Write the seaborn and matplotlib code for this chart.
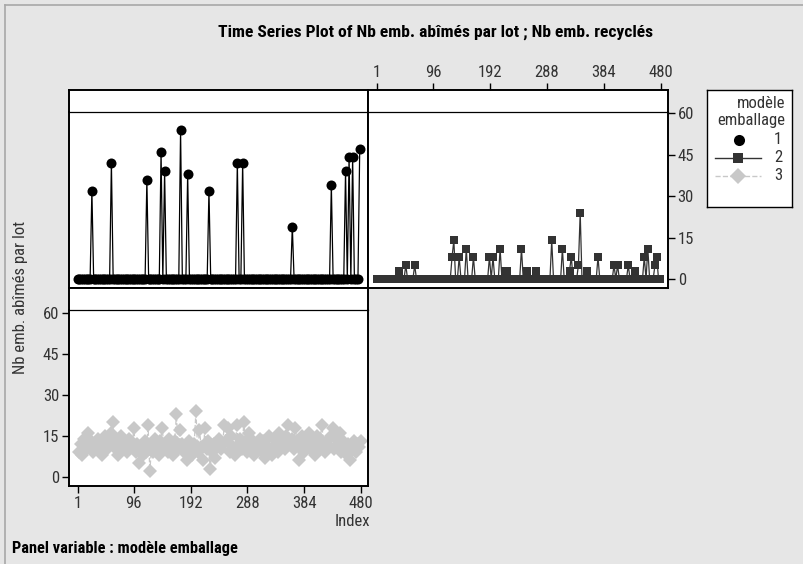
import numpy as np
import pandas as pd
import matplotlib
matplotlib.use("Agg")
import matplotlib.pyplot as plt
from matplotlib import font_manager as fm
from matplotlib.lines import Line2D
import seaborn as sns

# ---------------- data ----------------
models = [1, 2, 3]
n_lots = 480
tick_labels = [1, 96, 192, 288, 384, 480]
y_ticks = [0, 15, 30, 45, 60]

model1_values = [
    0, 0, 0, 0, 0, 0, 0, 0, 32, 0, 0, 0, 0, 0, 0, 0, 0, 0, 0, 42,
    0, 0, 0, 0, 0, 0, 0, 0, 0, 0, 0, 0, 0, 0, 0, 0, 0, 0, 0, 36,
    0, 0, 0, 0, 0, 0, 0, 46, 0, 39, 0, 0, 0, 0, 0, 0, 0, 0, 54, 0,
    0, 0, 38, 0, 0, 0, 0, 0, 0, 0, 0, 0, 0, 0, 32, 0, 0, 0, 0, 0,
    0, 0, 0, 0, 0, 0, 0, 0, 0, 0, 42, 0, 0, 42, 0, 0, 0, 0, 0, 0,
    0, 0, 0, 0, 0, 0, 0, 0, 0, 0, 0, 0, 0, 0, 0, 0, 0, 0, 0, 0,
    0, 19, 0, 0, 0, 0, 0, 0, 0, 0, 0, 0, 0, 0, 0, 0, 0, 0, 0, 0,
    0, 0, 0, 34, 0, 0, 0, 0, 0, 0, 0, 39, 0, 44, 0, 44, 0, 0, 0, 47,
]

model2_values = [
    0, 0, 0, 0, 0, 0, 0, 0, 0, 0, 0, 0, 3, 0, 0, 0, 5, 0, 0, 0,
    0, 5, 0, 0, 0, 0, 0, 0, 0, 0, 0, 0, 0, 0, 0, 0, 0, 0, 0, 0,
    0, 0, 8, 14, 0, 0, 8, 0, 0, 0, 11, 0, 0, 0, 8, 0, 0, 0, 0, 0,
    0, 0, 0, 8, 0, 8, 0, 0, 0, 11, 0, 0, 3, 3, 0, 0, 0, 0, 0, 0,
    0, 11, 0, 0, 3, 0, 0, 0, 0, 3, 0, 0, 0, 0, 0, 0, 0, 0, 14, 0,
    0, 0, 0, 0, 11, 0, 0, 0, 3, 8, 0, 0, 0, 5, 24, 0, 0, 0, 3, 0,
    0, 0, 0, 0, 8, 0, 0, 0, 0, 0, 0, 0, 0, 5, 0, 5, 0, 0, 0, 0,
    0, 5, 0, 0, 0, 3, 0, 0, 0, 0, 8, 0, 11, 0, 0, 0, 5, 8, 0, 0,
]

model3_values = [
    9, 12, 8, 14, 10, 16, 11, 13, 9, 12, 10, 14, 11, 8, 13, 15, 10, 12, 16, 20,
    11, 14, 8, 12, 15, 10, 13, 9, 14, 12, 11, 18, 9, 12, 5, 10, 8, 13, 9, 19,
    2, 11, 9, 14, 12, 8, 13, 18, 10, 12, 9, 14, 11, 8, 13, 23, 10, 17, 12, 9,
    11, 6, 13, 10, 8, 12, 24, 9, 17, 11, 6, 18, 10, 13, 3, 9, 12, 7, 11, 14,
    10, 12, 19, 13, 18, 9, 15, 11, 8, 19, 12, 14, 10, 20, 13, 9, 16, 11, 13, 8,
    12, 10, 14, 9, 13, 7, 11, 15, 10, 8, 14, 12, 9, 16, 11, 13, 10, 15, 19, 12,
    14, 10, 18, 13, 6, 11, 15, 9, 12, 14, 16, 10, 13, 8, 15, 11, 14, 19, 12, 9,
    13, 11, 15, 18, 10, 14, 12, 16, 9, 13, 11, 8, 12, 6, 10, 13, 9, 12, 11, 13,
]

# lots are interleaved by model: row index of each lot in the worksheet
rows = []
for m, vals in zip(models, [model1_values, model2_values, model3_values]):
    for k, v in enumerate(vals):
        rows.append({"Index": 3 * k + m, "model": m, "value": v})
df = pd.DataFrame(rows)

# ---------------- fonts ----------------
def pick(cands):
    for c in cands:
        try:
            fm.findfont(fm.FontProperties(family=c), fallback_to_default=False)
            return c
        except Exception:
            pass
    return "DejaVu Sans"

NARROW = pick(["Liberation Sans Narrow", "Roboto Condensed", "DejaVu Sans Condensed",
               "Liberation Sans", "DejaVu Sans"])
plt.rcParams["font.family"] = [NARROW, "DejaVu Sans"]

W, H = 804, 564
fig = plt.figure(figsize=(W / 100, H / 100), dpi=100)
BG = "#e6e6e6"
fig.patch.set_facecolor(BG)

def rect(x0, y0, x1, y1):
    return [x0 / W, 1 - y1 / H, (x1 - x0) / W, (y1 - y0) / H]

XLIM = (-13.7, 492)
TICK_COL = "#333333"
OUT_LW = 1.4
STRIP_LW = 0.9

def make_panel(strip_box, data_box, ylim):
    axs = fig.add_axes(rect(*strip_box))
    axd = fig.add_axes(rect(*data_box))
    for a in (axs, axd):
        a.set_facecolor("white")
        a.set_xlim(*XLIM)
        a.tick_params(which="both", length=0, labelleft=False, labelbottom=False)
        a.set_xticks([])
        a.set_yticks([])
        for s in a.spines.values():
            s.set_color("black")
            s.set_linewidth(OUT_LW)
    axs.spines["bottom"].set_visible(False)
    axd.spines["top"].set_linewidth(STRIP_LW)
    axd.set_ylim(*ylim)
    axs.set_ylim(0, 1)
    return axs, axd

top_ylim = (-3.26, 60.47)
bot_ylim = (-3.4, 61.2)
s1, a1 = make_panel((69, 90, 368, 112), (69, 112, 368, 288), top_ylim)
s2, a2 = make_panel((368, 90, 668, 112), (368, 112, 668, 288), top_ylim)
s3, a3 = make_panel((69, 288, 368, 310), (69, 310, 368, 486), bot_ylim)

styles = {
    1: dict(color="black", marker="o", markersize=7.2, linewidth=0.9, linestyle="-"),
    2: dict(color="#333333", marker="s", markersize=5.8, linewidth=0.9, linestyle="-"),
    3: dict(color="#c8c8c8", marker="D", markersize=6.8, linewidth=0.9, linestyle="--"),
}
for m, ax in zip(models, [a1, a2, a3]):
    sub = df[df["model"] == m]
    st = styles[m]
    sns.lineplot(data=sub, x="Index", y="value", ax=ax, estimator=None, sort=True,
                 color=st["color"], marker=st["marker"], markersize=st["markersize"],
                 markeredgewidth=0, linewidth=st["linewidth"], linestyle=st["linestyle"],
                 legend=False)
    ax.set_xlim(*XLIM)
    ax.set_xlabel("")
    ax.set_ylabel("")
    ax.set_xticks([])
    ax.set_yticks([])

tick_kw = dict(length=5, width=1, color="black", labelcolor=TICK_COL, labelsize=12, pad=2)

# top-right panel: x ticks on top of strip, y ticks on right
s2.set_xticks(tick_labels)
s2.set_xticklabels([str(t) for t in tick_labels])
s2.xaxis.set_ticks_position("top")
s2.xaxis.set_label_position("top")
s2.tick_params(axis="x", which="both", top=True, bottom=False, labeltop=True,
               labelbottom=False, direction="out", **tick_kw)
a2.set_ylim(*top_ylim)
a2.set_yticks(y_ticks)
a2.set_yticklabels([str(t) for t in y_ticks])
a2.yaxis.set_ticks_position("right")
a2.tick_params(axis="y", which="both", right=True, left=False, labelright=True,
               labelleft=False, direction="out", **tick_kw)

# bottom-left panel: x ticks at bottom, y ticks on left
a3.set_ylim(*bot_ylim)
a3.set_xticks(tick_labels)
a3.set_xticklabels([str(t) for t in tick_labels])
a3.tick_params(axis="x", which="both", bottom=True, labelbottom=True, direction="out", **tick_kw)
a3.set_yticks(y_ticks)
a3.set_yticklabels([str(t) for t in y_ticks])
a3.tick_params(axis="y", which="both", left=True, labelleft=True, direction="out", **tick_kw)

# ---------------- texts ----------------
fig.text(436 / W, 1 - 32 / H, "Time Series Plot of Nb emb. abîmés par lot ; Nb emb. recyclés",
         ha="center", va="center", fontsize=12.6, fontweight="bold", color="black")
fig.text(21 / W, 1 - 297 / H, "Nb emb. abîmés par lot", rotation=90, ha="center",
         va="center", fontsize=12, color=TICK_COL)
fig.text(352 / W, 1 - 521 / H, "Index", ha="center", va="center", fontsize=12, color=TICK_COL)
fig.text(12 / W, 1 - 549 / H, "Panel variable : modèle emballage", ha="left", va="center",
         fontsize=11.8, fontweight="bold", color="black")

# ---------------- legend ----------------
lg = fig.add_axes(rect(707, 90, 792, 207))
lg.set_facecolor("white")
lg.set_xlim(707, 792)
lg.set_ylim(207, 90)
lg.set_xticks([])
lg.set_yticks([])
for s in lg.spines.values():
    s.set_color("black")
    s.set_linewidth(1.0)
lg.text(785, 103, "modèle", ha="right", va="center", fontsize=12, color=TICK_COL)
lg.text(785, 121, "emballage", ha="right", va="center", fontsize=12, color=TICK_COL)
leg_rows = [140, 158, 176]
for m, yy in zip(models, leg_rows):
    st = styles[m]
    if m == 1:
        lg.add_line(Line2D([739], [yy], marker="o", markersize=8, color="black",
                           markeredgewidth=0, linestyle="none"))
    else:
        lg.add_line(Line2D([715, 761], [yy, yy], color=st["color"], linewidth=1.0,
                           linestyle=st["linestyle"], marker=None))
        lg.add_line(Line2D([738], [yy], marker=st["marker"], markersize=st["markersize"] + 1,
                           color=st["color"], markeredgewidth=0, linestyle="none"))
    lg.text(782, yy, str(m), ha="right", va="center", fontsize=12, color=TICK_COL)

# ---------------- frame lines ----------------
fig.add_artist(Line2D([5 / W, 5 / W], [0, 1 - 5 / H], transform=fig.transFigure,
                      color="#a8a8a8", linewidth=1.2))
fig.add_artist(Line2D([5 / W, 1], [1 - 5 / H, 1 - 5 / H], transform=fig.transFigure,
                      color="#a8a8a8", linewidth=1.2))

fig.savefig("out.png", dpi=100, facecolor=BG)
